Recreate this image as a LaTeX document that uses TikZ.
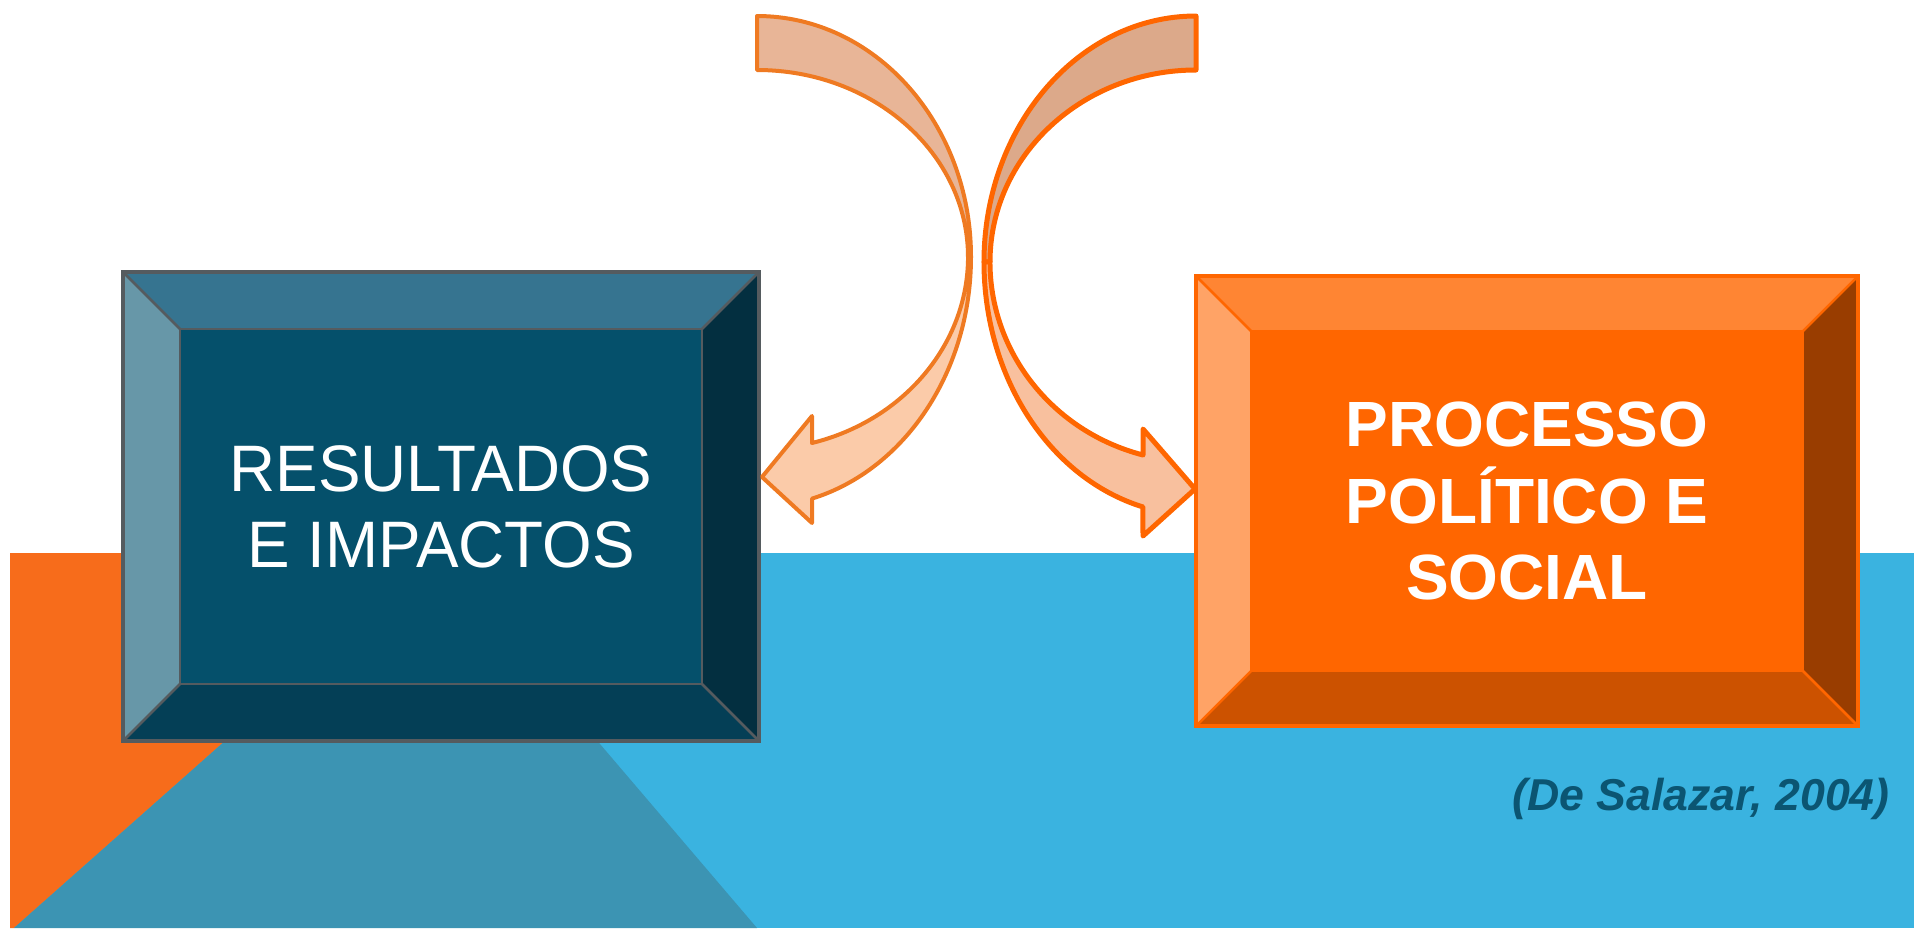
\documentclass[tikz,border=0pt]{standalone}
\usepackage{fontspec}
\setmainfont{Liberation Sans}
\newfontfamily\narrowsans[FakeStretch=0.97]{Liberation Sans}
\usetikzlibrary{positioning,calc}

\definecolor{bgorange}{HTML}{F76C1B}
\definecolor{bgblue}{HTML}{3AB3E0}
\definecolor{bgteal}{HTML}{3C94B3}
\definecolor{resface}{HTML}{05506B}
\definecolor{restop}{HTML}{367490}
\definecolor{resleft}{HTML}{6797A8}
\definecolor{resright}{HTML}{032F40}
\definecolor{resbottom}{HTML}{043F56}
\definecolor{resline}{HTML}{555B5F}
\definecolor{procface}{HTML}{FF6600}
\definecolor{proctop}{HTML}{FF8533}
\definecolor{procleft}{HTML}{FFA366}
\definecolor{procright}{HTML}{993D00}
\definecolor{procbottom}{HTML}{CC5200}
\definecolor{resarrowline}{HTML}{EF7A22}
\definecolor{resarrowback}{HTML}{E8B597}
\definecolor{resarrowfront}{HTML}{FBCBA9}
\definecolor{procarrowline}{HTML}{FF6600}
\definecolor{procarrowback}{HTML}{DCA98A}
\definecolor{procarrowfront}{HTML}{F8C09E}
\definecolor{citecolor}{HTML}{0B5572}

\tikzset{
  boxnode/.style={rectangle,inner sep=0pt,outer sep=0pt,text=white,align=center},
  resarrow/.style={draw=resarrowline,line width=0.4mm,line join=round},
  procarrow/.style={draw=procarrowline,line width=0.5mm,line join=round},
}

% bevel frame round a box node: node, inset, top, left, right, bottom, line colour
\newcommand{\drawbevels}[7]{%
  \fill[#3] (#1.north west) -- (#1.north east) -- ($(#1.north east)+(-#2,#2)$) -- ($(#1.north west)+(#2,#2)$) -- cycle;
  \fill[#4] (#1.north west) -- ($(#1.north west)+(#2,#2)$) -- ($(#1.south west)+(#2,-#2)$) -- (#1.south west) -- cycle;
  \fill[#5] (#1.north east) -- ($(#1.north east)+(-#2,#2)$) -- ($(#1.south east)+(-#2,-#2)$) -- (#1.south east) -- cycle;
  \fill[#6] (#1.south west) -- ($(#1.south west)+(#2,-#2)$) -- ($(#1.south east)+(-#2,-#2)$) -- (#1.south east) -- cycle;
  \draw[#7,line width=0.25mm] ($(#1.north west)+(#2,#2)$) rectangle ($(#1.south east)+(-#2,-#2)$);
  \draw[#7,line width=0.25mm] (#1.north west) -- ++(#2,#2) (#1.north east) -- ++(-#2,#2) (#1.south west) -- ++(#2,-#2) (#1.south east) -- ++(-#2,-#2);
  \draw[#7,line width=0.4mm] (#1.north west) rectangle (#1.south east);
}

\begin{document}
\begin{tikzpicture}[x=0.1mm,y=-0.1mm]
	\useasboundingbox (0,0) rectangle (1914,928);

	%background
	\fill[bgblue] (10,553) rectangle (1914,928); %blue band
	\fill[bgorange] (10,553) -- (437,553) -- (14,928) -- (10,928) -- cycle; %orange corner
	\fill[bgteal] (437,553) -- (757,928) -- (14,928) -- cycle; %teal triangle

	%boxes
	\node[boxnode,fill=resface,minimum width=63.6mm,minimum height=46.9mm,
	  font=\narrowsans\fontsize{18.7}{21.7}\selectfont] (resbox) at (441,506.5) {RESULTADOS\\E IMPACTOS};
	\drawbevels{resbox}{57}{restop}{resleft}{resright}{resbottom}{resline}

	\node[boxnode,fill=procface,minimum width=66.2mm,minimum height=45mm,
	  font=\bfseries\fontsize{18.2}{21.9}\selectfont] (procbox) at (1527,501) {PROCESSO\\POLÍTICO E\\SOCIAL};
	\drawbevels{procbox}{55}{proctop}{procleft}{procright}{procbottom}{procface}

	%arrow tips on the boxes
	\coordinate (restip) at ($(resbox.east)+(3,-29.5)$);
	\coordinate (proctip) at ($(procbox.west)+(-1,-12)$);

	%left arrow
	\filldraw[resarrow,fill=resarrowback] (757,16) arc[start angle=-90,end angle=0,x radius=214,y radius=241]
	  -- (968,257) arc[start angle=0,end angle=-90,x radius=211,y radius=187] -- cycle; %back half
	\filldraw[resarrow,fill=resarrowfront] (971,257) arc[start angle=0,end angle=75.1,x radius=214,y radius=250]
	  -- (812,523) -- (restip) -- (812,416) -- (812,443)
	  arc[start angle=74.9,end angle=0,x radius=211,y radius=193] -- cycle; %front half

	%right arrow
	\filldraw[procarrow,fill=procarrowback] (1196,16) arc[start angle=-90,end angle=-180,x radius=212,y radius=246]
	  -- (990,262) arc[start angle=180,end angle=270,x radius=206,y radius=192] -- cycle; %back half
	\filldraw[procarrow,fill=procarrowfront] (984,262) arc[start angle=180,end angle=104.5,x radius=212,y radius=253]
	  -- (1143,536) -- (proctip) -- (1143,429) -- (1143,455)
	  arc[start angle=104.9,end angle=180,x radius=206,y radius=200] -- cycle; %front half

	%source
	\node[anchor=base east,text=citecolor,font=\bfseries\itshape\fontsize{12.7}{14}\selectfont] (cite) at (1902,810) {(De Salazar, 2004)};
\end{tikzpicture}
\end{document}
